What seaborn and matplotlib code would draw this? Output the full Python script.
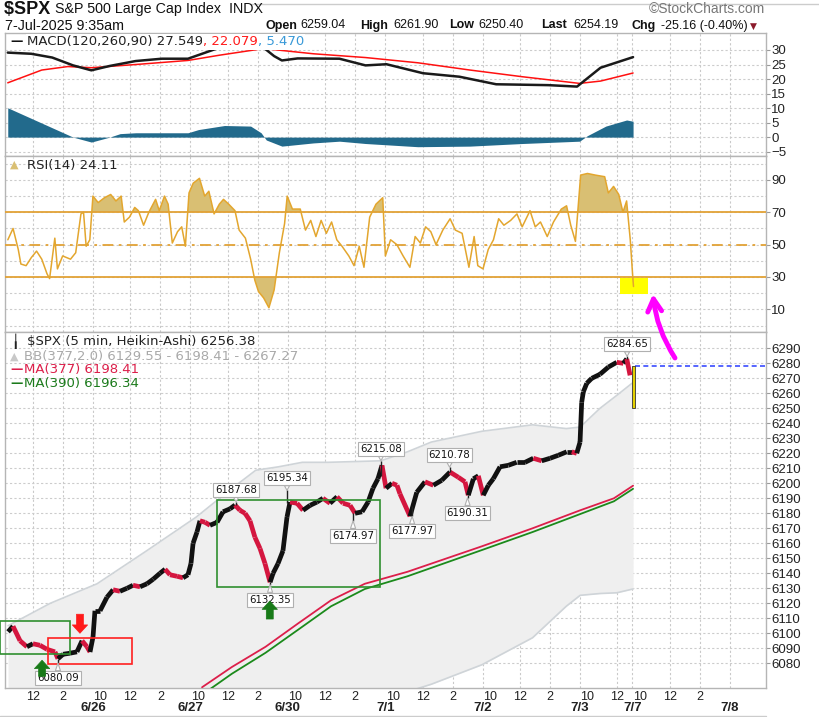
import numpy as np
import pandas as pd
import matplotlib
matplotlib.use("Agg")
import matplotlib.pyplot as plt
import seaborn as sns
from matplotlib.collections import LineCollection
from matplotlib.patches import Rectangle, FancyArrowPatch

# ---------------- data (x = trading hours since 6/25 09:30) ----------------
DAY_OPENS = [0.0, 6.5, 13.0, 19.5, 26.0, 32.5, 39.0, 42.5, 49.0]
DAY_NAMES = ["6/25", "6/26", "6/27", "6/30", "7/1", "7/2", "7/3", "7/7", "7/8"]
LABEL_HOURS = [6.5, 6.5, 6.5, 6.5, 6.5, 6.5, 3.5, 6.5, 0.0]
HOUR_NAMES = ["10", "12", "2"]
HOUR_OFFSETS = [0.5, 2.5, 4.5]

MACD_H = [0.81, 2.38, 3.78, 5.17, 6.39, 7.61, 9.35, 11.1, 12.84, 13.89, 14.93, 16.33, 17.37,
          17.89, 18.59, 19.11, 20.16, 22.95, 24.69, 26.09, 28.53, 30.96, 33.41, 36.89, 38.81,
          40.38, 42.55]
MACD_V = [29.1, 28.7, 27.4, 24.7, 23.0, 24.5, 26.2, 27.0, 27.0, 28.9, 30.8, 33.0, 32.5,
          30.8, 27.9, 26.4, 27.1, 27.0, 24.7, 25.1, 22.0, 20.8, 18.2, 17.9, 17.4,
          23.9, 27.55]
SIG_H = [0.81, 3.08, 4.82, 6.39, 9.35, 12.84, 14.93, 17.89, 21.21, 24.69, 28.18, 31.66,
         35.15, 38.98, 40.38, 42.55]
SIG_V = [18.7, 23.1, 24.3, 23.9, 25.0, 26.4, 28.2, 30.5, 28.7, 27.4, 25.6, 23.1,
         20.8, 18.5, 19.3, 22.08]
HIST_H = [0.81, 5.17, 6.39, 7.61, 8.31, 9.35, 12.84, 13.54, 15.28, 17.02, 17.72, 18.07,
          19.11, 21.21, 22.95, 24.69, 28.18, 31.66, 35.15, 38.98, 39.50, 40.73, 42.12, 42.55]
HIST_V = [10.1, 0.0, -1.7, 0.0, 1.2, 1.5, 1.5, 2.6, 4.0, 3.8, 1.5, -1.0,
          -3.1, -2.0, -1.4, -2.2, -3.3, -3.1, -2.2, -1.4, 0.5, 3.8, 5.9, 5.47]

RSI_H = [0.815, 1.163, 1.512, 1.686, 2.035, 2.383, 2.732, 3.080, 3.429, 3.603, 3.952, 4.126,
         4.475, 4.998, 5.346, 5.695, 5.869, 6.043, 6.287, 6.496, 6.845, 7.263, 7.681, 8.030,
         8.379, 8.588, 8.936, 9.285, 9.529, 9.877, 10.226, 10.679, 10.923, 11.272, 11.516,
         11.794, 12.143, 12.422, 12.666, 12.910, 13.189, 13.607, 13.956, 14.234, 14.583,
         14.932, 15.210, 15.559, 15.977, 16.256, 16.674, 17.023, 17.302, 17.546, 17.894,
         18.243, 18.591, 18.940, 19.288, 19.463, 19.811, 20.334, 20.683, 21.031, 21.380,
         21.728, 22.077, 22.426, 22.774, 23.123, 23.576, 23.924, 24.273, 24.587, 24.970,
         25.388, 25.841, 26.016, 26.364, 26.783, 27.201, 27.654, 28.003, 28.351, 28.700,
         29.048, 29.397, 29.850, 30.338, 30.686, 31.139, 31.593, 31.941, 32.185, 32.534,
         32.882, 33.231, 33.579, 33.928, 34.381, 34.799, 35.148, 35.671, 36.019, 36.368,
         36.821, 37.239, 37.762, 38.111, 38.390, 38.703, 39.052, 39.505, 40.028, 40.655,
         40.899, 41.248, 41.596, 41.875, 42.119, 42.363, 42.537, 42.58]
RSI_V = [53, 60, 47, 38, 37, 42, 46, 41, 32, 29, 54, 35,
         43, 41, 45, 69, 70, 49, 53, 80, 76, 79, 81, 77,
         80, 64, 67, 73, 71, 62, 70, 78, 71, 80, 75,
         51, 58, 61, 49, 82, 88, 91, 80, 83, 69,
         75, 78, 75, 71, 59, 54, 41, 28, 21, 17,
         11, 22, 45, 63, 80, 72, 72, 59, 65, 55,
         65, 57, 64, 53, 49, 43, 37, 49, 36, 67,
         75, 79, 43, 53, 50, 43, 36, 55, 51, 61,
         58, 50, 59, 66, 59, 57, 36, 55, 37, 35,
         47, 53, 66, 62, 65, 69, 61, 71, 61, 64,
         55, 64, 72, 74, 62, 52, 93, 94, 93, 92,
         82, 86, 81, 70, 77, 53, 29, 24.11]

PX_H = [0.83, 1.16, 1.63, 2.09, 2.49, 2.96, 3.43, 3.96, 4.16, 4.50, 4.96, 5.43, 5.77, 6.10,
        6.30, 6.50, 6.63, 6.97, 7.43, 7.84, 8.30, 8.77, 9.17, 9.64, 10.10, 10.51, 10.97,
        11.31, 11.64, 12.11, 12.51, 12.84, 13.04, 13.18, 13.44, 13.64, 13.98, 14.31, 14.78,
        15.18, 15.65, 15.98, 16.31, 16.65, 16.98, 17.31, 17.65, 17.98, 18.32, 18.52, 18.85,
        19.18, 19.45, 19.65, 20.12, 20.52, 20.99, 21.45, 21.85, 22.32, 22.79, 23.19, 23.66,
        23.99, 24.46, 24.86, 25.19, 25.52, 25.79, 26.06, 26.46, 26.79, 26.99, 27.66, 28.11,
        28.66, 29.22, 29.78, 30.33, 30.89, 31.33, 31.55, 31.89, 32.22, 32.55, 32.89, 33.22,
        33.67, 34.22, 34.78, 35.34, 35.89, 36.45, 37.01, 37.56, 38.12, 38.46, 38.79, 39.01,
        39.12, 39.23, 39.46, 39.79, 40.34, 40.90, 41.46, 41.90, 42.13, 42.35]
PX_V = [6101, 6104.7, 6095, 6091, 6093, 6092, 6089.3, 6087.6, 6083, 6086, 6086.7, 6087.6,
        6095, 6091, 6087.5, 6097.5, 6115, 6115, 6124, 6129, 6128, 6130, 6132, 6131, 6133,
        6136, 6140, 6142.7, 6139, 6138, 6137, 6139, 6146.5, 6160, 6167.5, 6175, 6174, 6172,
        6174, 6181, 6183, 6185.5, 6182, 6180, 6175, 6164, 6156.5, 6146.5, 6134, 6140,
        6146.5, 6155, 6177.5, 6187.5, 6186.7, 6182, 6185.3, 6187.5, 6190, 6186.7, 6191,
        6186.7, 6185.3, 6180, 6181, 6187.5, 6196.7, 6203, 6212, 6196.7, 6200, 6198.7,
        6193, 6178, 6194, 6201, 6198.7, 6202, 6207.5, 6204, 6201, 6192, 6203, 6205, 6192,
        6198.7, 6203, 6211, 6212, 6214, 6214, 6216.7, 6215, 6216.7, 6218.7, 6221, 6221,
        6220, 6227.5, 6254, 6261, 6266.7, 6270, 6272.7, 6277.5, 6280.7, 6280, 6283, 6272]
LAST_H = 42.55
LAST_OPEN = 6278.0
LAST_CLOSE = 6256.38
LAST_LOW = 6250.4

# highs / lows that carry value tags
TAG_H = [4.16, 16.05, 18.32, 19.45, 23.86, 25.72, 27.80, 30.30, 31.50, 42.15]
TAG_V = [6080.09, 6187.68, 6132.35, 6195.34, 6174.97, 6215.08, 6177.97, 6210.78, 6190.31, 6284.65]
TAG_BASE = [6083, 6185.5, 6134, 6187.0, 6180, 6205, 6185, 6207.5, 6192, 6283]
TAG_UP = [False, True, False, True, False, True, False, True, False, True]

MA377_H = [13.78, 15.77, 18.02, 20.21, 22.39, 24.64, 27.49, 32.46, 35.84, 39.02, 41.27, 42.55]
MA377_V = [6064, 6077.5, 6091, 6106.7, 6122, 6133, 6141, 6158, 6170, 6182, 6190, 6198.41]
MA390_V = [6059, 6073, 6087, 6102.5, 6118, 6129.5, 6138, 6155.5, 6167.5, 6179.5, 6188, 6196.34]

BBU_H = [0.83, 3.65, 6.77, 10.08, 13.39, 15.57, 17.36, 18.88, 20.47, 22.19, 25.70, 27.49,
         29.08, 32.46, 35.84, 38.09, 39.02, 40.34, 41.47, 42.55]
BBU_V = [6105, 6120, 6133, 6155, 6177.5, 6195, 6208.7, 6211, 6214, 6214, 6215, 6221,
         6227.5, 6234.7, 6239, 6236.5, 6237.5, 6250, 6258.7, 6267.27]
BBL_V = [5900, 5915, 5925, 5940, 5955, 5975, 5985, 5995, 6005, 6025, 6051, 6061,
         6066, 6079, 6097, 6118, 6125.3, 6126.5, 6127, 6129.55]

# user drawn boxes: (x0, x1, y0, y1)
BOXES_GREEN = [(0.3, 4.96, 6086.2, 6108.2), (14.78, 25.66, 6130.7, 6188.9)]
BOXES_RED = [(3.50, 9.10, 6079.3, 6097.0)]
ARROWS = [(3.10, 6071.3, 6082.0, "#187a18"), (5.63, 6112.7, 6100.0, "#ff1a1a"),
          (18.30, 6109.5, 6121.5, "#187a18")]
LAST_LINE = 6278.0

# ---------------- figure ----------------
sns.set_style("white")
plt.rcParams["font.family"] = ["DejaVu Sans"]

W, H = 819, 717
L, R = 5, 765.5
XLIM = (0.626, 51.39)
fig = plt.figure(figsize=(W / 100, H / 100), dpi=100)


def rect(top, bot):
    return [L / W, 1 - bot / H, (R - L) / W, (bot - top) / H]


ax_m = fig.add_axes(rect(33.3, 156))
ax_r = fig.add_axes(rect(156, 332.3))
ax_p = fig.add_axes(rect(332.3, 688.3))

grid_x = []
hour_pos, hour_lab, day_pos, day_lab = [], [], [], []
for o, n, lh in zip(DAY_OPENS, DAY_NAMES, LABEL_HOURS):
    if XLIM[0] <= o <= XLIM[1]:
        grid_x.append(o)
        day_pos.append(o)
        day_lab.append(n)
    for hn, off in zip(HOUR_NAMES, HOUR_OFFSETS):
        p = o + off
        if off < lh and XLIM[0] <= p <= XLIM[1]:
            hour_pos.append(p)
            hour_lab.append(hn)
            if hn != "10":
                grid_x.append(p)

TICK_FONT = ["Liberation Sans", "DejaVu Sans"]
for ax, ylim in ((ax_m, (-6.5, 35.75)), (ax_r, (-4.2, 104.8)), (ax_p, (6063.3, 6300.7))):
    ax.set_xlim(XLIM)
    ax.set_ylim(ylim)
    ax.set_facecolor("white")
    for s in ax.spines.values():
        s.set_color("#b5b5b5")
        s.set_linewidth(1.0)
    ax.yaxis.tick_right()
    ax.tick_params(axis="y", which="major", direction="out", length=3, width=0.8,
                   color="#9a9a9a", labelsize=9.5, pad=1, labelcolor="#222222")
    ax.tick_params(axis="y", which="minor", length=0)
    for t in ax.get_yticklabels():
        t.set_family(TICK_FONT)
    for gx in grid_x:
        ax.axvline(gx, color="#c9c9c9", ls=(0, (2, 2)), lw=0.8, zorder=0)
    ax.set_xlabel("")
    ax.set_ylabel("")

# ---- MACD ----
ax_m.set_yticks(np.arange(-5, 31, 5))
ax_m.grid(axis="y", color="#cccccc", ls=(0, (2, 2)), lw=0.8)
ax_m.set_axisbelow(True)
ax_m.fill_between(HIST_H, 0, HIST_V, color="#226a8c", lw=0, zorder=2)
sns.lineplot(x=SIG_H, y=SIG_V, ax=ax_m, color="#ff1010", lw=1.1, estimator=None, zorder=3)
sns.lineplot(x=MACD_H, y=MACD_V, ax=ax_m, color="#1a1a1a", lw=1.8, estimator=None, zorder=4)
ax_m.set_xticks([])

# ---- RSI ----
ax_r.set_yticks([10, 30, 50, 70, 90])
ax_r.set_yticks([0, 20, 40, 60, 80, 100], minor=True)
ax_r.grid(axis="y", which="both", color="#cccccc", ls=(0, (2, 2)), lw=0.8)
ax_r.set_axisbelow(True)
rsi = np.array(RSI_V, dtype=float)
rh = np.array(RSI_H)
ax_r.add_patch(Rectangle((41.68, 19.3), 1.85, 10.2, color="#ffff00", lw=0, zorder=2))
ax_r.fill_between(rh, rsi, 70, where=rsi >= 70, interpolate=True, color="#d9bf73", lw=0, zorder=3)
ax_r.fill_between(rh, rsi, 30, where=rsi <= 30, interpolate=True, color="#d9bf73", lw=0, zorder=3)
for lvl, ls in ((70, "-"), (30, "-"), (50, (0, (6, 3, 1.5, 3)))):
    ax_r.axhline(lvl, color="#e2a236", lw=1.3, ls=ls, zorder=3)
sns.lineplot(x=rh, y=rsi, ax=ax_r, color="#e3a62e", lw=1.1, estimator=None, zorder=4)
ax_r.set_xticks([])

# ---- price ----
ax_p.set_yticks(np.arange(6080, 6291, 10))
ax_p.grid(axis="y", color="#cccccc", ls=(0, (2, 2)), lw=0.8)
ax_p.set_axisbelow(True)
ax_p.fill_between(BBU_H, BBL_V, BBU_V, color="#efefef", lw=0, zorder=1)
sns.lineplot(x=BBU_H, y=BBU_V, ax=ax_p, color="#cfd4d8", lw=1.2, estimator=None, zorder=2)
sns.lineplot(x=BBU_H, y=BBL_V, ax=ax_p, color="#cfd4d8", lw=1.2, estimator=None, zorder=2)
sns.lineplot(x=MA377_H, y=MA390_V, ax=ax_p, color="#1b8a1b", lw=1.3, estimator=None, zorder=3)
sns.lineplot(x=MA377_H, y=MA377_V, ax=ax_p, color="#dc1f4a", lw=1.3, estimator=None, zorder=3)

pts = np.column_stack([PX_H, PX_V])
segs = np.stack([pts[:-1], pts[1:]], axis=1)
cols = np.where(np.diff(PX_V) >= 0, "#111111", "#d4163f")
ax_p.add_collection(LineCollection(segs, colors=cols, linewidths=3.4, capstyle="butt", zorder=5))
ax_p.vlines(TAG_H, TAG_BASE, TAG_V, colors="#222222", lw=1.0, zorder=5)

ax_p.bar(LAST_H, LAST_OPEN - LAST_LOW, bottom=LAST_LOW, width=0.2, color="#e4d000",
         edgecolor="#333333", lw=0.6, zorder=6)
ax_p.hlines(LAST_LINE, LAST_H + 0.1, XLIM[1], colors="#3a4cff", linestyles=(0, (3, 2)), lw=1.2, zorder=4)

for x0, x1, y0, y1 in BOXES_GREEN:
    ax_p.add_patch(Rectangle((x0, y0), x1 - x0, y1 - y0, fill=False, ec="#2f8f2f", lw=1.2,
                             zorder=7, clip_on=False))
for x0, x1, y0, y1 in BOXES_RED:
    ax_p.add_patch(Rectangle((x0, y0), x1 - x0, y1 - y0, fill=False, ec="#ff2020", lw=1.2, zorder=7))

for h, v, up in zip(TAG_H, TAG_V, TAG_UP):
    ax_p.annotate(f"{v:.2f}", xy=(h, v), xytext=(0, 12 if up else -15), textcoords="offset pixels",
                  ha="center", va="center", fontsize=7.3, color="#111111",
                  bbox=dict(boxstyle="square,pad=0.2", fc="white", ec="#b0b0b0", lw=0.8),
                  arrowprops=dict(arrowstyle="wedge,tail_width=0.5", fc="white", ec="#b0b0b0",
                                  lw=0.8, shrinkA=0, shrinkB=0),
                  zorder=8)

for x, y0, y1, c in ARROWS:
    ax_p.annotate("", xy=(x, y1), xytext=(x, y0),
                  arrowprops=dict(arrowstyle="simple,head_length=0.6,head_width=1.1,tail_width=0.5",
                                  fc=c, ec=c, lw=0.5, shrinkA=0, shrinkB=0), zorder=9)

ax_p.set_xticks(hour_pos, hour_lab)
ax_p.set_xticks(day_pos, day_lab, minor=True)
ax_p.tick_params(axis="x", which="major", length=0, pad=2.0, labelsize=9, labelcolor="#222222")
ax_p.tick_params(axis="x", which="minor", length=0, pad=9.8, labelsize=9.5, labelcolor="#222222")
for t in ax_p.xaxis.get_majorticklabels():
    t.set_family(TICK_FONT)
for t in ax_p.xaxis.get_minorticklabels():
    t.set_family(TICK_FONT)
    t.set_fontweight("bold")

# magenta hand-drawn arrow (figure level, above all panels)
fig.add_artist(FancyArrowPatch((675 / W, 1 - 358 / H), (653 / W, 1 - 294 / H),
                               transform=fig.transFigure, arrowstyle="->,head_length=9,head_width=5",
                               color="#ff00ff", lw=3.5, connectionstyle="arc3,rad=-0.12",
                               shrinkA=0, shrinkB=0, zorder=10))

# ---------------- texts ----------------
rend = fig.canvas.get_renderer()


def ftext(x, y, s, **kw):
    kw.setdefault("va", "center")
    kw.setdefault("ha", "left")
    return fig.text(x / W, 1 - y / H, s, **kw)


def run(x, y, pieces, **kw):
    for s, p in pieces:
        t = ftext(x, y, s, **{**kw, **p})
        x += t.get_window_extent(rend).width


fig.add_artist(plt.Line2D([250 / W, 1], [1 - 4 / H, 1 - 4 / H], color="#cccccc", lw=1))
HEAD = ["Liberation Sans", "DejaVu Sans"]
run(4, 9, [("$SPX ", dict(fontsize=13, fontweight="bold")),
           ("S&P 500 Large Cap Index  INDX", dict(fontsize=10.3))], family=HEAD, color="#111111")
ftext(765, 9, "©StockCharts.com", ha="right", fontsize=10, family=HEAD, color="#777777")
ftext(5, 25.5, "7-Jul-2025 9:35am", fontsize=10.3, family=HEAD, color="#111111")
head_items = [(266, "Open", True), (300, "6259.04", False), (360, "High", True),
              (393, "6261.90", False), (449, "Low", True), (478, "6250.40", False),
              (541.5, "Last", True), (573, "6254.19", False), (632, "Chg", True),
              (660.6, "-25.16 (-0.40%)", False)]
for x, s, b in head_items:
    ftext(x, 25.5, s, fontsize=9, family=HEAD, fontweight="bold" if b else "normal",
          color="#111111")
ftext(750, 26, "▼", fontsize=6.5, color="#8b1a2b", family="DejaVu Sans")

LEG = dict(fontsize=9.5, family="DejaVu Sans")
WB = dict(boxstyle="square,pad=0.1", fc="white", ec="none")
ftext(10, 41.7, "—", color="#111111", fontweight="bold", fontsize=9)
run(27, 41.7, [("MACD(120,260,90) 27.549", dict(color="#222222")),
               (", 22.079", dict(color="#ff1a1a")),
               (", 5.470", dict(color="#3a9ad8"))], bbox=WB, **LEG)

ftext(10, 165, "▲", color="#d9bf73", fontsize=8)
ftext(27, 165, "RSI(14) 24.11", color="#222222", **LEG)

ftext(11, 341.7, "╽", color="#222222", fontsize=9)
ftext(27, 341.7, "$SPX (5 min, Heikin-Ashi) 6256.38", color="#222222", **LEG)
ftext(10, 356.7, "▲", color="#c8c8c8", fontsize=8)
ftext(24, 356.7, "BB(377,2.0) 6129.55 - 6198.41 - 6267.27", color="#a9a9a9", **LEG)
ftext(10, 370, "—", color="#dc1f4a", fontweight="bold", fontsize=9)
ftext(24, 370, "MA(377) 6198.41", color="#dc1f4a", **LEG)
ftext(10, 383.3, "—", color="#1b7a1b", fontweight="bold", fontsize=9)
ftext(24, 383.3, "MA(390) 6196.34", color="#1b7a1b", **LEG)

fig.add_artist(plt.Line2D([0, R / W], [1 - 715.5 / H, 1 - 715.5 / H], color="#cccccc", lw=1))

fig.savefig("out.png", dpi=100)
